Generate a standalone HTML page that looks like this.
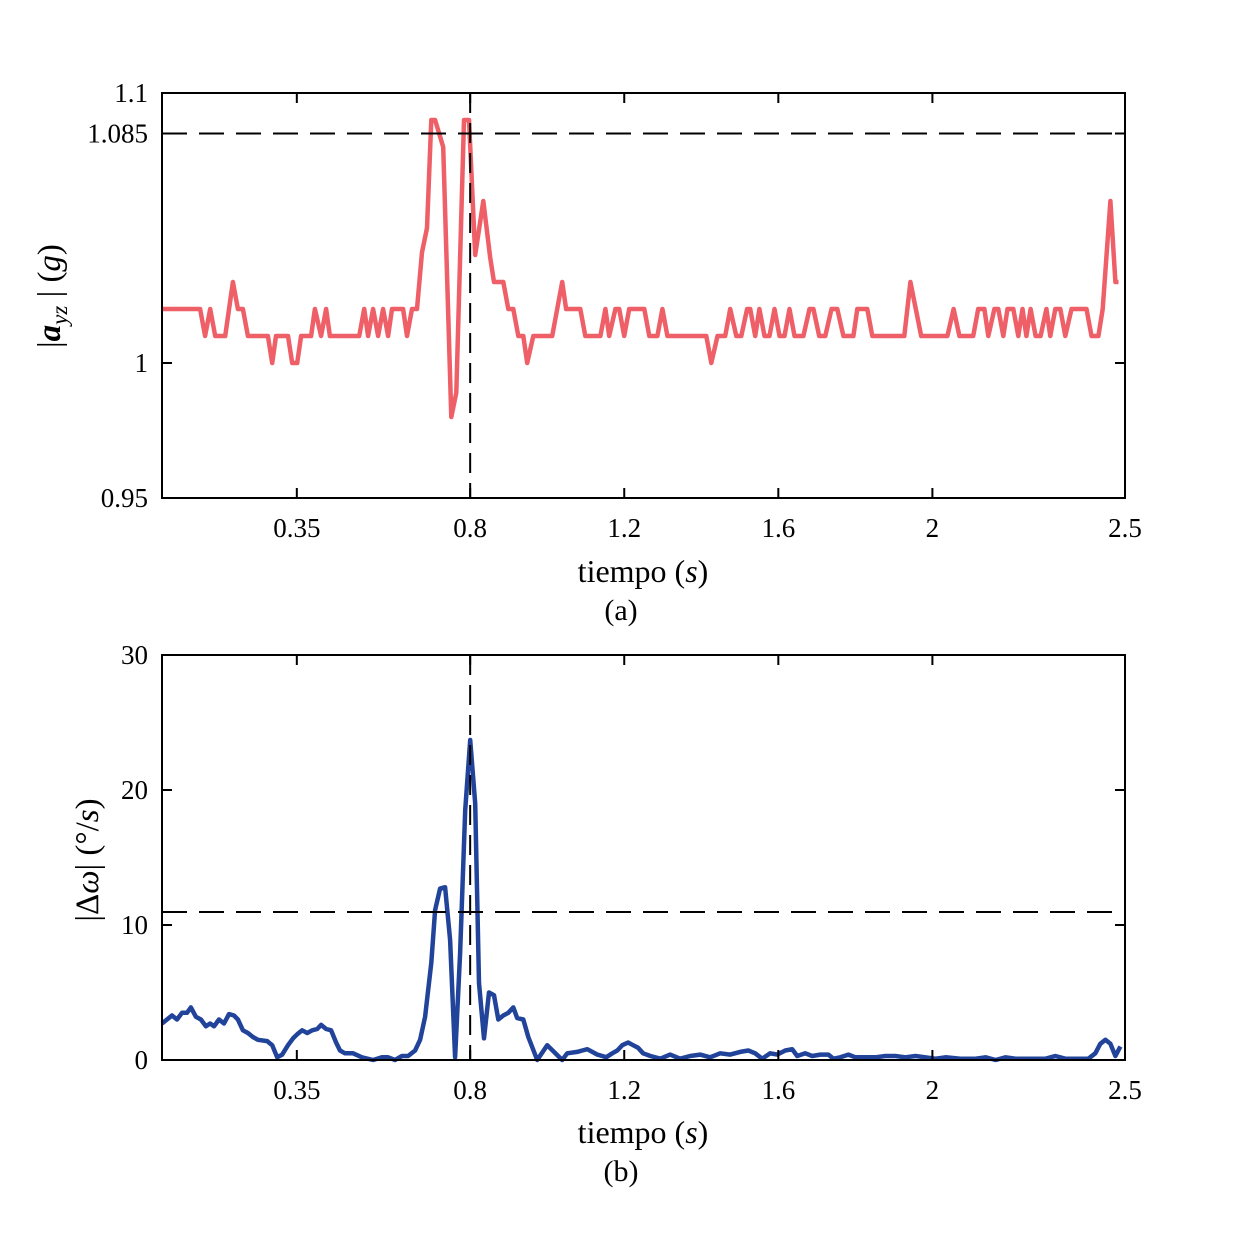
<!DOCTYPE html>
<html><head><meta charset="utf-8"><style>
html,body{margin:0;padding:0;background:#fff;}
svg{display:block;font-family:"Liberation Serif",serif;}
</style></head><body>
<svg id="fig" width="1243" height="1243" viewBox="0 0 1243 1243" xmlns="http://www.w3.org/2000/svg">
<rect width="1243" height="1243" fill="#fff"/>
<g id="pa"></g>
<g id="pb"></g>
<text transform="translate(60,296) rotate(-90)" text-anchor="middle" font-size="33">|<tspan font-weight="bold" font-style="italic">a</tspan><tspan font-style="italic" font-size="23" dy="7">yz</tspan><tspan dy="-7"> | (</tspan><tspan font-style="italic">g</tspan>)</text>
<text transform="translate(98,860) rotate(-90)" text-anchor="middle" font-size="33">|Δ<tspan font-style="italic">ω</tspan>| (°/<tspan font-style="italic">s</tspan>)</text>
<text x="643" y="582" text-anchor="middle" font-size="32">tiempo (<tspan font-style="italic">s</tspan>)</text>
<text x="621" y="620" text-anchor="middle" font-size="30">(a)</text>
<text x="643" y="1143" text-anchor="middle" font-size="32">tiempo (<tspan font-style="italic">s</tspan>)</text>
<text x="621" y="1181" text-anchor="middle" font-size="30">(b)</text>
</svg>
<script>
const xTicks=[0.35,0.8,1.2,1.6,2,2.5];
const xTickLabels=["0.35","0.8","1.2","1.6","2","2.5"];
const aTicks=[0.95,1,1.085,1.1];
const aTickLabels=["0.95","1","1.085","1.1"];
const bTicks=[0,10,20,30];
const bTickLabels=["0","10","20","30"];
const aThreshold=1.085, bThreshold=10.96, eventTime=0.8;
const aTime=[0,.099,.112,.125,.138,.164,.184,.197,.210,.223,.275,.286,.296,.327,.338,.351,.361,.387,.397,.413,.426,.436,.512,.525,.535,.548,.561,.574,.587,.597,.626,.636,.649,.662,.675,.688,.699,.709,.730,.751,.764,.784,.797,.813,.834,.852,.862,.886,.899,.912,.925,.938,.948,.964,1.013,1.039,1.049,1.086,1.099,1.138,1.151,1.161,1.177,1.187,1.2,1.213,1.252,1.265,1.286,1.299,1.312,1.413,1.426,1.442,1.462,1.475,1.491,1.504,1.519,1.527,1.540,1.551,1.564,1.577,1.590,1.603,1.616,1.629,1.642,1.665,1.681,1.691,1.706,1.722,1.738,1.753,1.769,1.795,1.805,1.831,1.844,1.927,1.943,1.971,2.039,2.055,2.070,2.106,2.119,2.135,2.145,2.161,2.171,2.184,2.195,2.210,2.223,2.234,2.244,2.255,2.268,2.281,2.296,2.306,2.319,2.332,2.345,2.361,2.4,2.413,2.431,2.442,2.462,2.475,2.483];
const aValue=[1.02,1.02,1.01,1.02,1.01,1.01,1.03,1.02,1.02,1.01,1.01,1.00,1.01,1.01,1.00,1.00,1.01,1.01,1.02,1.01,1.02,1.01,1.01,1.02,1.01,1.02,1.01,1.02,1.01,1.02,1.02,1.01,1.02,1.02,1.041,1.05,1.09,1.09,1.08,0.98,0.989,1.09,1.09,1.04,1.06,1.039,1.03,1.03,1.02,1.02,1.01,1.01,1.00,1.01,1.01,1.03,1.02,1.02,1.01,1.01,1.02,1.01,1.02,1.02,1.01,1.02,1.02,1.01,1.01,1.02,1.01,1.01,1.00,1.01,1.01,1.02,1.01,1.01,1.02,1.02,1.01,1.02,1.01,1.01,1.02,1.01,1.01,1.02,1.01,1.01,1.02,1.02,1.01,1.01,1.02,1.02,1.01,1.01,1.02,1.02,1.01,1.01,1.03,1.01,1.01,1.02,1.01,1.01,1.02,1.02,1.01,1.02,1.02,1.01,1.02,1.02,1.01,1.02,1.01,1.02,1.01,1.01,1.02,1.01,1.02,1.02,1.01,1.02,1.02,1.01,1.01,1.02,1.06,1.03,1.03];
const bTime=[0,.013,.026,.039,.052,.065,.075,.088,.101,.114,.125,.135,.148,.161,.174,.187,.197,.210,.223,.236,.249,.273,.286,.299,.312,.327,.340,.351,.364,.377,.390,.403,.413,.426,.439,.452,.462,.475,.496,.519,.548,.571,.587,.605,.623,.639,.657,.670,.683,.699,.709,.722,.735,.748,.761,.774,.787,.8,.813,.823,.836,.849,.862,.873,.886,.899,.912,.922,.938,.951,.974,1.0,1.039,1.052,1.078,1.091,1.104,1.117,1.130,1.143,1.153,1.169,1.182,1.195,1.210,1.223,1.236,1.249,1.268,1.294,1.319,1.345,1.371,1.397,1.423,1.449,1.475,1.501,1.522,1.540,1.558,1.579,1.597,1.618,1.636,1.649,1.670,1.688,1.709,1.730,1.743,1.761,1.782,1.800,1.826,1.852,1.878,1.904,1.930,1.956,1.982,2.008,2.034,2.073,2.112,2.138,2.164,2.190,2.216,2.255,2.294,2.319,2.345,2.384,2.405,2.423,2.436,2.449,2.462,2.475,2.488];
const bValue=[2.7,3.0,3.3,3.0,3.5,3.5,3.9,3.2,3.0,2.5,2.7,2.5,3.0,2.7,3.4,3.3,3.0,2.2,2.0,1.7,1.5,1.4,1.1,0.2,0.4,1.1,1.6,1.9,2.2,2.0,2.2,2.3,2.6,2.3,2.2,1.3,0.7,0.5,0.5,0.2,0.0,0.2,0.2,0.0,0.3,0.3,0.7,1.5,3.2,7.2,11.1,12.7,12.8,8.9,0.2,7.9,18.5,23.7,19.0,5.7,1.6,5.0,4.8,3.0,3.3,3.5,3.9,3.1,3.0,1.7,0.0,1.1,0.0,0.5,0.6,0.7,0.8,0.6,0.4,0.3,0.2,0.5,0.7,1.1,1.3,1.1,0.9,0.5,0.3,0.1,0.4,0.1,0.3,0.4,0.2,0.5,0.4,0.6,0.7,0.5,0.1,0.5,0.4,0.7,0.8,0.3,0.5,0.3,0.4,0.4,0.1,0.2,0.4,0.2,0.2,0.2,0.3,0.3,0.2,0.3,0.2,0.1,0.2,0.1,0.1,0.2,0.0,0.2,0.1,0.1,0.1,0.3,0.1,0.1,0.1,0.5,1.2,1.5,1.2,0.3,1.0];

const NS="http://www.w3.org/2000/svg";
function mk(parent,tag,attrs){const e=document.createElementNS(NS,tag);for(const k in attrs)e.setAttribute(k,attrs[k]);parent.appendChild(e);return e;}
const L=162,R=1125;
const xs=t=>L+(t-0)/(2.5-0)*(R-L);
function panel(g,top,bot,ymin,ymax,ticks,labels,thr,times,vals,color,key){
  const ys=v=>bot-(v-ymin)/(ymax-ymin)*(bot-top);
  let d="";
  times.forEach((t,i)=>{d+=(i?"L":"M")+xs(t).toFixed(1)+","+ys(vals[i]).toFixed(1);});
  const p=mk(g,"path",{d:d,fill:"none",stroke:color,"stroke-width":4.5,"stroke-linejoin":"round"});
  
  
  const h=mk(g,"line",{x1:L,x2:R,y1:ys(thr),y2:ys(thr),stroke:"#000","stroke-width":2,"stroke-dasharray":"25,12"});
  
  
  const v=mk(g,"line",{x1:xs(eventTime),x2:xs(eventTime),y1:top,y2:bot,stroke:"#000","stroke-width":2,"stroke-dasharray":"20,10"});
  
  
  const box=mk(g,"rect",{x:L,y:top,width:R-L,height:bot-top,fill:"none",stroke:"#000","stroke-width":2});
  
  
  xTicks.forEach((t,i)=>{
    const x=xs(t);
    mk(g,"line",{x1:x,x2:x,y1:bot,y2:bot-10,stroke:"#000","stroke-width":2});
    mk(g,"line",{x1:x,x2:x,y1:top,y2:top+10,stroke:"#000","stroke-width":2});
    const tx=mk(g,"text",{x:x,y:bot+39,"text-anchor":"middle","font-size":27});
    tx.textContent=xTickLabels[i];
    
    
  });
  ticks.forEach((v,i)=>{
    const y=ys(v);
    mk(g,"line",{x1:L,x2:L+10,y1:y,y2:y,stroke:"#000","stroke-width":2});
    mk(g,"line",{x1:R,x2:R-10,y1:y,y2:y,stroke:"#000","stroke-width":2});
    const tx=mk(g,"text",{x:L-14,y:y+9,"text-anchor":"end","font-size":27});
    tx.textContent=labels[i];
    
    
  });
}
panel(document.getElementById("pa"),93,498,0.95,1.1,aTicks,aTickLabels,aThreshold,aTime,aValue,"#ee5f68","a");
panel(document.getElementById("pb"),655,1060,0,30,bTicks,bTickLabels,bThreshold,bTime,bValue,"#21449a","b");
</script>
</body></html>
